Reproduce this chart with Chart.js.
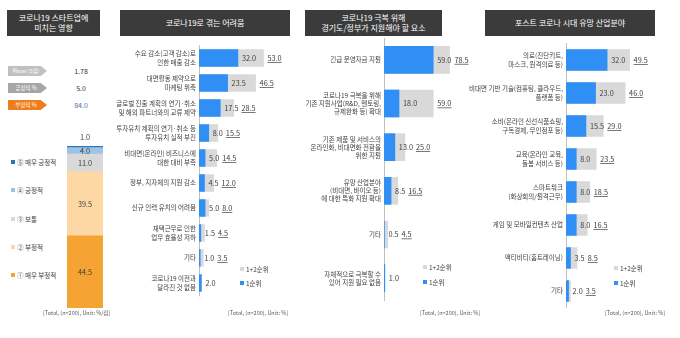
<!DOCTYPE html>
<html>
<head>
<meta charset="utf-8">
<script src="https://cdn.jsdelivr.net/npm/chart.js@4.4.1/dist/chart.umd.min.js"></script>
<style>
  body { margin: 0; width: 680px; height: 338px; background: #fff; position: relative; overflow: hidden; font-family: 'Noto Sans CJK KR', sans-serif; }
  canvas { position: absolute; }
  .title { position: absolute; top: 10px; height: 26px; background: #3b3b3b; color: #fff; font-size: 8px; line-height: 10px; display: flex; align-items: center; justify-content: center; text-align: center; }
  .note { position: absolute; top: 309px; font: 5.5px 'Liberation Sans Narrow', 'Noto Sans CJK KR', sans-serif; color: #595959; white-space: nowrap; }
  .leg { position: absolute; font-size: 6.5px; color: #404040; white-space: nowrap; line-height: 8px; }
  .leg i { display: inline-block; width: 4px; height: 4px; margin-right: 2px; vertical-align: 1px; }
  .tag { position: absolute; left: 8px; width: 39px; height: 10px; color: #fff; font-size: 5.5px; line-height: 10px; text-align: center; padding-right: 3px; box-sizing: border-box; clip-path: polygon(0 0, 84% 0, 100% 50%, 84% 100%, 0 100%); }
  .val { position: absolute; left: 68px; width: 26px; text-align: center; font: 7px 'Liberation Sans Narrow', 'Noto Sans CJK KR', sans-serif; line-height: 10px; }
</style>
</head>
<body>
<div class="title" style="left:7px;width:93px">코로나19 스타트업에<br>미치는 영향</div>
<div class="title" style="left:120px;width:170px">코로나19로 겪는 어려움</div>
<div class="title" style="left:305px;width:137px">코로나19 극복 위해<br>경기도/정부가 지원해야 할 요소</div>
<div class="title" style="left:485px;width:170px">포스트 코로나 시대 유망 산업분야</div>

<div id="p1"></div>
<canvas id="impact" width="46" height="190" style="left:62px;top:126px"></canvas>
<canvas id="hard" width="195" height="338" style="left:105px;top:0"></canvas>
<canvas id="support" width="200" height="338" style="left:290px;top:0"></canvas>
<canvas id="field" width="250" height="338" style="left:430px;top:0"></canvas>

<div class="leg" style="left:240px;top:265px"><i style="background:#d9d9d9"></i>1+2순위</div>
<div class="leg" style="left:240px;top:279px"><i style="background:#2f8ff5"></i>1순위</div>
<div class="leg" style="left:423px;top:263px"><i style="background:#d9d9d9"></i>1+2순위</div>
<div class="leg" style="left:423px;top:278px"><i style="background:#2f8ff5"></i>1순위</div>
<div class="leg" style="left:614px;top:264px"><i style="background:#d9d9d9"></i>1+2순위</div>
<div class="leg" style="left:614px;top:279px"><i style="background:#2f8ff5"></i>1순위</div>

<div class="note" style="left:43px">[Total, (n=200), Unit: %/점]</div>
<div class="note" style="left:228px">[Total, (n=200), Unit: %]</div>
<div class="note" style="left:420px">[Total, (n=200), Unit: %]</div>
<div class="note" style="left:605px">[Total, (n=200), Unit: %]</div>

<script>
// 패널 1: 스타트업 영향 (아래부터 위로 쌓임)
const STACK_LABELS = ['① 매우 부정적', '② 부정적', '③ 보통', '④ 긍정적', '⑤ 매우 긍정적'];
const STACK_VALUES = [44.5, 39.5, 11.0, 4.0, 1.0];
const SUMMARY_LABELS = ['Mean (5점)', '긍정적 %', '부정적 %'];
const SUMMARY_VALUES = ['1.78', '5.0', '84.0'];

// 패널 2: 겪는 어려움
const HARD_LABELS = [
  ['수요 감소(고객 감소)로', '인한 매출 감소'],
  ['대면활동 제약으로', '마케팅 위축'],
  ['글로벌 진출 계획의 연기·취소', '및 해외 파트너와의 교류 제약'],
  ['투자유치 계획의 연기·취소 등', '투자유치 실적 부진'],
  ['비대면(온라인) 비즈니스에', '대한 대비 부족'],
  '정부, 지자체의 지원 감소',
  '신규 인력 유치의 어려움',
  ['재택근무로 인한', '업무 효율성 저하'],
  '기타',
  ['코로나19 이전과', '달라진 것 없음'],
];
const HARD_FIRST = [32.0, 23.5, 17.5, 8.0, 5.0, 4.5, 5.0, 1.5, 1.0, 2.0];
const HARD_TOP2 = [53.0, 46.5, 28.5, 15.5, 14.5, 12.0, 8.0, 4.5, 3.5, null];

// 패널 3: 지원해야 할 요소
const SUPPORT_LABELS = [
  '긴급 운영자금 지원',
  ['코로나19 극복을 위해', '기존 지원사업(R&D, 멘토링,', '규제완화 등) 확대'],
  ['기존 제품 및 서비스의', '온라인화, 비대면화 전환을', '위한 지원'],
  ['유망 산업분야', '(비대면, 바이오 등)', '에 대한 특화 지원 확대'],
  '기타',
  ['자체적으로 극복할 수', '있어 지원 필요 없음'],
];
const SUPPORT_FIRST = [59.0, 18.0, 13.0, 8.5, 0.5, 1.0];
const SUPPORT_TOP2 = [78.5, 59.0, 25.0, 16.5, 4.5, null];

// 패널 4: 유망 산업분야
const FIELD_LABELS = [
  ['의료(진단키트,', '마스크, 원격의료 등)'],
  ['비대면 기반 기술(컴퓨팅, 클라우드,', '플랫폼 등)'],
  ['소비(온라인 신선식품쇼핑,', '구독경제, 무인점포 등)'],
  ['교육(온라인 교육,', '돌봄 서비스 등)'],
  ['스마트워크', '(화상회의/원격근무)'],
  '게임 및 모바일컨텐츠 산업',
  '액티비티(홈트레이닝)',
  '기타',
];
const FIELD_FIRST = [32.0, 23.0, 15.5, 8.0, 8.0, 8.0, 3.5, 2.0];
const FIELD_TOP2 = [49.5, 46.0, 29.0, 23.5, 18.5, 16.5, 8.5, 3.5];

const BLUE = '#2f8ff5', GRAY = '#d9d9d9', TXT = '#404040';
const KR = "'Noto Sans CJK KR', sans-serif";
const NUM = "7.3px 'Liberation Sans Narrow', 'Noto Sans CJK KR', sans-serif";
const STACK_COLORS = ['#f5a333', '#fdd8a5', '#d9d9d9', '#9dc3e6', '#2e75b6'];
const TAG_COLORS = ['#c0c0c0', '#a6a6a6', '#f07d1c'];
const VAL_COLORS = ['#333333', '#333333', '#4f6f9f'];

// 패널 1 요약 태그 + 범례
(function () {
  const box = document.getElementById('p1');
  let html = '';
  SUMMARY_LABELS.forEach((l, i) => {
    const y = 66 + i * 17;
    html += `<div class="tag" style="top:${y}px;background:${TAG_COLORS[i]}">${l}</div>`;
    html += `<div class="val" style="top:${y}px;color:${VAL_COLORS[i]}">${SUMMARY_VALUES[i]}</div>`;
  });
  STACK_LABELS.slice().reverse().forEach((l, k) => {
    const i = STACK_LABELS.length - 1 - k;
    html += `<div class="leg" style="left:11px;top:${158 + k * 28.3}px"><i style="background:${STACK_COLORS[i]}"></i>${l}</div>`;
  });
  box.innerHTML = html;
})();

const stackLabels = {
  id: 'stackLabels',
  afterDatasetsDraw(chart) {
    const ctx = chart.ctx;
    ctx.save();
    ctx.font = NUM; ctx.fillStyle = TXT; ctx.textAlign = 'center'; ctx.textBaseline = 'middle';
    chart.data.datasets.forEach((ds, i) => {
      const bar = chart.getDatasetMeta(i).data[0];
      const h = bar.base - bar.y;
      const y = h < 4 ? bar.y - 9 : (bar.y + bar.base) / 2;
      ctx.fillText(ds.data[0].toFixed(1), bar.x, y);
    });
    ctx.restore();
  }
};

new Chart(document.getElementById('impact'), {
  type: 'bar',
  data: {
    labels: [''],
    datasets: STACK_VALUES.map((v, i) => ({ label: STACK_LABELS[i], data: [v], backgroundColor: STACK_COLORS[i], barPercentage: 1, categoryPercentage: 1 })),
  },
  options: {
    animation: false, responsive: false,
    layout: { padding: { top: 20, bottom: 8, left: 5, right: 5 } },
    plugins: { legend: { display: false }, tooltip: { enabled: false } },
    scales: { x: { display: false, stacked: true }, y: { display: false, stacked: true, min: 0, max: 100 } },
  },
  plugins: [stackLabels],
});

const barLabels = {
  id: 'barLabels',
  afterDatasetsDraw(chart) {
    const ctx = chart.ctx;
    const first = chart.getDatasetMeta(0), top2 = chart.getDatasetMeta(1);
    ctx.save();
    ctx.font = NUM; ctx.fillStyle = TXT; ctx.textBaseline = 'middle'; ctx.textAlign = 'left';
    first.data.forEach((bar, i) => {
      const t1 = chart.data.datasets[0].data[i].toFixed(1);
      const x1 = bar.x + 4;
      ctx.fillText(t1, x1, bar.y);
      const g = chart.data.datasets[1].data[i];
      if (g == null) return;
      const t2 = g.toFixed(1);
      const x2 = Math.max(top2.data[i].x + 4, x1 + ctx.measureText(t1).width + 3);
      ctx.fillText(t2, x2, bar.y);
      ctx.fillRect(x2, bar.y + 4, ctx.measureText(t2).width, 0.7);
    });
    ctx.restore();
  }
};

function hbar(id, labels, first, top2, o) {
  new Chart(document.getElementById(id), {
    type: 'bar',
    data: {
      labels,
      datasets: [
        { label: '1순위', data: first, backgroundColor: BLUE, barThickness: o.thick, grouped: false },
        { label: '1+2순위', data: top2, backgroundColor: GRAY, barThickness: o.thick, grouped: false },
      ],
    },
    options: {
      indexAxis: 'y', animation: false, responsive: false,
      layout: { padding: { top: o.top, bottom: o.bottom, left: 0, right: 0 } },
      plugins: { legend: { display: false }, tooltip: { enabled: false } },
      scales: {
        x: { display: false, min: 0, max: o.max },
        y: {
          grid: { display: false, drawTicks: false },
          border: { display: true, color: '#bfbfbf', width: 1 },
          ticks: { color: TXT, autoSkip: false, padding: 3, font: { family: KR, size: 6.5, lineHeight: 1.25 } },
          afterFit: (s) => { s.width = o.axisW; },
        },
      },
    },
    plugins: [barLabels],
  });
}

hbar('hard', HARD_LABELS, HARD_FIRST, HARD_TOP2, { thick: 17, top: 45.5, bottom: 42.5, axisW: 94, max: 83 });
hbar('support', SUPPORT_LABELS, SUPPORT_FIRST, SUPPORT_TOP2, { thick: 27, top: 38, bottom: 38, axisW: 94, max: 127 });
hbar('field', FIELD_LABELS, FIELD_FIRST, FIELD_TOP2, { thick: 21, top: 43.5, bottom: 30.5, axisW: 136, max: 88.7 });
</script>
</body>
</html>
